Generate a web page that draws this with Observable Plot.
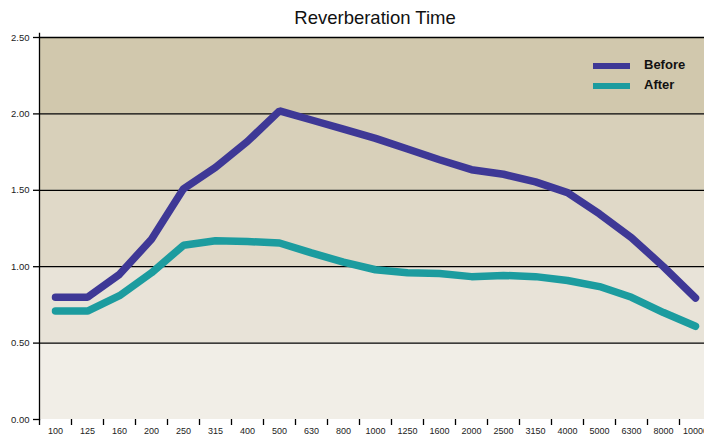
<!DOCTYPE html>
<html>
<head>
<meta charset="utf-8">
<script src="https://cdn.jsdelivr.net/npm/d3@7"></script>
<script src="https://cdn.jsdelivr.net/npm/@observablehq/plot@0.6"></script>
<style>
  html, body { margin: 0; padding: 0; background: #fff; }
  #wrap { position: relative; width: 704px; height: 436px; overflow: hidden; font-family: "Liberation Sans", Arial, sans-serif; }
  #chart svg { max-width: none !important; display: block; }
  #title { position: absolute; left: 39px; width: 672px; top: 7px; text-align: center; font-size: 18.5px; color: #111; }
  .sw { position: absolute; left: 593px; width: 37px; height: 6px; }
  .lg { position: absolute; left: 644px; font-size: 13px; font-weight: bold; color: #111; line-height: 1; }
</style>
</head>
<body>
<div id="wrap">
  <div id="chart"></div>
  <div id="title">Reverberation Time</div>
  <div class="sw" style="top:63px;background:#3e3896"></div>
  <div class="lg" style="top:58px">Before</div>
  <div class="sw" style="top:83px;background:#1c9c9f"></div>
  <div class="lg" style="top:78px">After</div>
</div>
<script>
const freqs = ["100","125","160","200","250","315","400","500","630","800","1000","1250","1600","2000","2500","3150","4000","5000","6300","8000","10000"];
const before = [0.80,0.80,0.95,1.18,1.51,1.65,1.82,2.02,1.96,1.90,1.84,1.77,1.70,1.635,1.605,1.555,1.485,1.345,1.19,1.00,0.795];
const after  = [0.71,0.71,0.81,0.96,1.14,1.17,1.165,1.155,1.09,1.03,0.98,0.96,0.955,0.935,0.943,0.935,0.91,0.87,0.80,0.70,0.61];
const yTicks = [0, 0.5, 1.0, 1.5, 2.0, 2.5];
const bandLo = [0, 0.5, 1.0, 1.5, 2.0];
const bandHi = [0.5, 1.0, 1.5, 2.0, 2.5];
const bandFill = ["#f1eee7", "#e8e3d8", "#e0d9c8", "#d8d0ba", "#d1c8ad"];

const bands = bandLo.map((lo, i) => ({lo, hi: bandHi[i], fill: bandFill[i]}));
const beforeData = freqs.map((f, i) => ({f, v: before[i]}));
const afterData = freqs.map((f, i) => ({f, v: after[i]}));

const W = 711, ML = 39;
const bw = (W - ML) / freqs.length;

const chart = Plot.plot({
  width: W,
  height: 436,
  marginTop: 37,
  marginBottom: 17,
  marginLeft: ML,
  marginRight: 0,
  style: {background: "transparent", overflow: "visible", maxWidth: "none", fontFamily: "Liberation Sans, Arial, sans-serif"},
  x: {type: "band", domain: freqs, paddingInner: 0, paddingOuter: 0, label: null},
  y: {domain: [0, 2.5], label: null},
  marks: [
    Plot.rect(bands, {y1: "lo", y2: "hi", fill: d => d.fill}),
    Plot.ruleY(yTicks.filter(d => d > 0), {stroke: "#000", strokeWidth: 1.3}),
    Plot.axisY(yTicks, {tickSize: 6, tickPadding: 4, tickFormat: d3.format(".2f"), fontSize: 9.5, stroke: "#000", strokeWidth: 1.3, fill: "#222", label: null}),
    Plot.frame({anchor: "left", stroke: "#000", strokeWidth: 1.3, insetTop: -4}),
    Plot.axisX({tickSize: 6, tickFormat: () => "", dx: -bw / 2, stroke: "#000", strokeWidth: 1.3, label: null}),
    Plot.axisX({tickSize: 0, tickPadding: 8, fontSize: 9, fill: "#222", label: null}),
    Plot.line(afterData, {x: "f", y: "v", stroke: "#1c9c9f", strokeWidth: 7.5, strokeLinejoin: "miter"}),
    Plot.line(beforeData, {x: "f", y: "v", stroke: "#3e3896", strokeWidth: 7.5, strokeLinejoin: "miter"})
  ]
});
chart.setAttribute("fill", "currentColor");
document.getElementById("chart").appendChild(chart);
</script>
</body>
</html>
